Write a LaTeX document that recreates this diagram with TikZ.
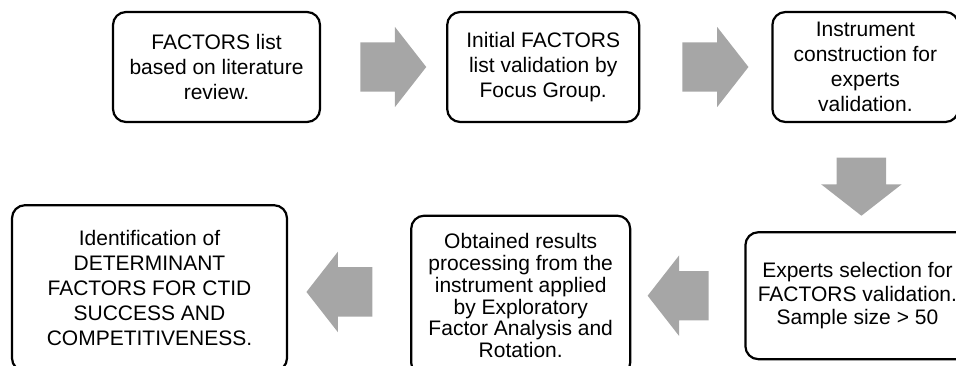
\documentclass[tikz,border=0pt]{standalone}
\usepackage{fontspec}
\setmainfont{Liberation Sans}
\usepackage{tikz}
\usetikzlibrary{positioning, calc}
\usetikzlibrary{shapes.arrows}

\begin{document}
\begin{tikzpicture}[x=1pt, y=1pt, font=\fontsize{21pt}{25pt}\selectfont, align=center,
        stepbox/.style={draw, rounded corners=13pt, line width=2.2pt, minimum height=110pt, inner sep=0pt},
        flowarrow/.style={single arrow, draw=none, fill=arrowgray, inner xsep=0pt, inner ysep=24.5pt,
            minimum width=80pt, single arrow head extend=15.5pt, single arrow tip angle=104, minimum height=66pt}]
        % Define colors
        \definecolor{arrowgray}{RGB}{166,166,166}

        % Page frame
        \useasboundingbox (0,0) rectangle (956,-366);
        \clip (0,0) rectangle (956,-366);

        % Nodes
        \node[stepbox, minimum width=207pt] (list) at (216.5,-67) {FACTORS list\\based on literature\\review.};
        \node[stepbox, minimum width=192pt, right=125pt of list] (group) {Initial FACTORS\\list validation by\\Focus Group.};
        \node[stepbox, minimum width=186pt, right=131pt of group] (instr) {Instrument\\construction for\\experts\\validation.};
        \node[stepbox, minimum width=224pt, minimum height=127pt, below=108pt of instr, xshift=-8pt,
            font=\fontsize{21pt}{23.5pt}\selectfont] (experts) {Experts selection for\\FACTORS validation.\\Sample size > 50};
        \node[stepbox, minimum width=219pt, minimum height=160pt, left=113pt of experts,
            font=\fontsize{21pt}{21.7pt}\selectfont] (efa) {Obtained results\\processing from the\\instrument applied\\by Exploratory\\Factor Analysis and\\Rotation.};
        \node[stepbox, minimum width=275pt, minimum height=166pt, left=122pt of efa, yshift=7.5pt] (result) {Identification of\\DETERMINANT\\FACTORS FOR CTID\\SUCCESS AND\\COMPETITIVENESS.};

        % Arrows
        \node[flowarrow] (a1) at ($(list.east)!0.5!(group.west)$) {};
        \node[flowarrow] (a2) at ($(group.east)!0.5!(instr.west)$) {};
        \node[flowarrow, minimum height=58pt, rotate=-90] (a3) at ($(instr.south)!0.5!(experts.north)$) {};
        \node[flowarrow, minimum height=61pt, rotate=180] (a4) at ($(experts.west)!0.5!(efa.east)$) {};
        \node[flowarrow, rotate=180] (a5) at ($(efa.west)!0.5!(result.east)$) {};
    \end{tikzpicture}
\end{document}
